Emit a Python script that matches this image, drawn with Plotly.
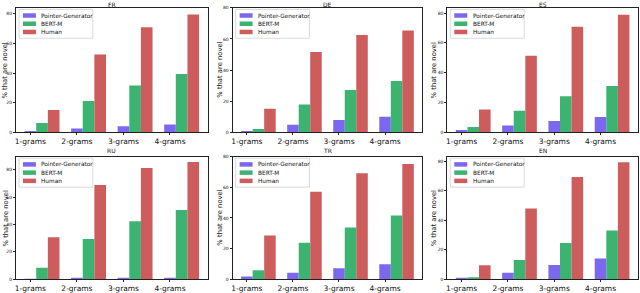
import numpy as np
import plotly.graph_objects as go

W, H = 640, 293

categories = ["1-grams", "2-grams", "3-grams", "4-grams"]
series_names = ["Pointer-Generator", "BERT-M", "Human"]
languages = ["FR", "DE", "ES", "RU", "TR", "EN"]

fr_pg = [0.7, 2.6, 4.0, 5.3]
fr_bert = [6.2, 21.2, 31.6, 39.3]
fr_human = [15.0, 52.6, 70.9, 79.6]

de_pg = [0.9, 4.9, 7.9, 10.0]
de_bert = [2.1, 17.9, 27.2, 33.0]
de_human = [15.1, 51.7, 62.6, 65.5]

es_pg = [1.5, 4.6, 7.5, 10.3]
es_bert = [3.5, 14.5, 24.1, 31.1]
es_human = [15.3, 51.3, 70.8, 78.9]

ru_pg = [0.2, 0.4, 0.6, 0.7]
ru_bert = [8.3, 29.4, 42.3, 50.6]
ru_human = [30.6, 68.8, 81.2, 85.7]

tr_pg = [1.7, 4.2, 7.2, 9.8]
tr_bert = [5.9, 23.8, 33.7, 41.6]
tr_human = [28.6, 57.1, 69.2, 75.3]

en_pg = [0.7, 4.4, 9.7, 14.1]
en_bert = [1.3, 13.0, 24.6, 33.0]
en_human = [9.5, 47.9, 69.2, 79.3]

y_ticks = [0, 20, 40, 60, 80]
y_max = [84, 80, 83.5, 89.5, 80, 83]

panel_data = [
    (fr_pg, fr_bert, fr_human),
    (de_pg, de_bert, de_human),
    (es_pg, es_bert, es_human),
    (ru_pg, ru_bert, ru_human),
    (tr_pg, tr_bert, tr_human),
    (en_pg, en_bert, en_human),
]

colors = ["#7B68EE", "#3CB371", "#CD5C5C"]
bar_w = 0.25

cols_px = [(15, 207), (232, 422), (447, 638)]
rows_px = [(6, 133), (158, 283)]
ylab_x = [4.5, 219, 434]


def px_x(x):
    return x / W


def px_y(y):
    return 1 - y / H


fig = go.Figure()
shapes = []
annotations = []
xpos = np.arange(len(categories))

for i, lang in enumerate(languages):
    r, c = divmod(i, 3)
    ax_id = "" if i == 0 else str(i + 1)
    x0p, x1p = cols_px[c]
    y0p, y1p = rows_px[r]
    for s, (vals, name, col) in enumerate(zip(panel_data[i], series_names, colors)):
        fig.add_trace(go.Bar(
            x=xpos + s * bar_w, y=vals, width=bar_w, name=name,
            marker=dict(color=col, line=dict(width=0)),
            xaxis="x" + ax_id, yaxis="y" + ax_id, showlegend=False,
        ))
    fig.layout["xaxis" + ax_id] = dict(
        domain=[px_x(x0p), px_x(x1p)], anchor="y" + ax_id,
        range=[-0.31, 3.81], tickvals=list(xpos), ticktext=categories,
        showline=True, mirror=True, linecolor="#222", linewidth=1,
        ticks="outside", ticklen=2, tickcolor="#222", showgrid=False,
        zeroline=False, tickfont=dict(size=7.5, color="#111", family="DejaVu Sans"),
    )
    fig.layout["yaxis" + ax_id] = dict(
        domain=[px_y(y1p), px_y(y0p)], anchor="x" + ax_id,
        range=[0, y_max[i]], tickvals=y_ticks,
        showline=True, mirror=True, linecolor="#222", linewidth=1,
        ticks="outside", ticklen=2, tickcolor="#222", showgrid=False,
        zeroline=False, tickfont=dict(size=4.5, color="#111", family="DejaVu Sans"),
    )
    # panel title
    annotations.append(dict(
        text=lang, xref="paper", yref="paper", x=px_x((x0p + x1p) / 2),
        y=px_y(y0p - 3.5 if r == 0 else y0p - 6), xanchor="center", yanchor="middle",
        showarrow=False, font=dict(size=6, color="#111", family="DejaVu Sans"),
    ))
    # y title
    annotations.append(dict(
        text="% that are novel", xref="paper", yref="paper", x=px_x(ylab_x[c]),
        y=px_y((y0p + y1p) / 2), xanchor="center", yanchor="middle", textangle=-90,
        showarrow=False, font=dict(size=6.8, color="#111", family="DejaVu Sans"),
    ))
    # legend frame
    lx, ly = x0p, y0p
    shapes.append(dict(
        type="rect", xref="paper", yref="paper",
        x0=px_x(lx + 3), x1=px_x(lx + 77), y0=px_y(ly + 31), y1=px_y(ly + 1.5),
        line=dict(color="#d0d0d0", width=0.8), fillcolor="rgba(255,255,255,0.8)",
        layer="above",
    ))
    for k, (name, col) in enumerate(zip(series_names, colors)):
        cy = ly + 7.8 + k * 8.4
        shapes.append(dict(
            type="rect", xref="paper", yref="paper",
            x0=px_x(lx + 7), x1=px_x(lx + 20), y0=px_y(cy + 2.3), y1=px_y(cy - 2.3),
            line=dict(width=0), fillcolor=col, layer="above",
        ))
        annotations.append(dict(
            text=name, xref="paper", yref="paper", x=px_x(lx + 23.5), y=px_y(cy),
            xanchor="left", yanchor="middle", showarrow=False,
            font=dict(size=5.8, color="#111", family="DejaVu Sans"),
        ))

fig.update_layout(
    width=W, height=H, margin=dict(l=0, r=0, t=0, b=0),
    paper_bgcolor="white", plot_bgcolor="white",
    shapes=shapes, annotations=annotations, showlegend=False,
    font=dict(family="DejaVu Sans"),
)

fig.write_html(
    "out.html",
    config={"displayModeBar": False},
    post_script="document.body.style.margin='0';document.body.style.overflow='hidden';",
)
